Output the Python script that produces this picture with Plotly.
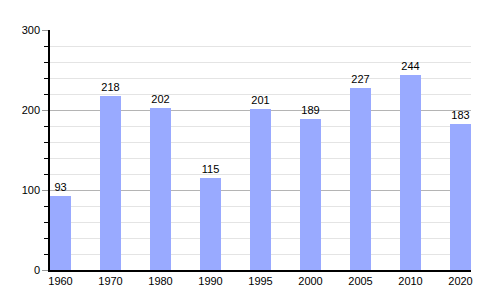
import plotly.graph_objects as go

years = ["1960", "1970", "1980", "1990", "1995", "2000", "2005", "2010", "2020"]
population = [93, 218, 202, 115, 201, 189, 227, 244, 183]

bar_w = 0.42
xpos = list(range(len(years)))

fig = go.Figure(go.Bar(
    x=xpos,
    y=population,
    width=bar_w,
    offset=0,
    marker=dict(color="#99aaff", line=dict(width=0)),
    text=[str(v) for v in population],
    textposition="outside",
    textfont=dict(family="Liberation Sans, Arial, sans-serif", size=11, color="black"),
    cliponaxis=False,
))

fig.update_layout(
    width=500, height=300,
    margin=dict(l=50, r=29, t=30, b=30),
    paper_bgcolor="white", plot_bgcolor="white",
    font=dict(family="Liberation Sans, Arial, sans-serif", size=11, color="black"),
    showlegend=False,
    bargap=0,
    xaxis=dict(
        range=[0, len(years) - 1 + bar_w],
        tickmode="array",
        tickvals=[i + bar_w / 2 for i in xpos],
        ticktext=years,
        showgrid=False, zeroline=False,
        showline=True, linecolor="black", linewidth=1.5,
        ticks="", fixedrange=True,
    ),
    yaxis=dict(
        range=[0, 300],
        tickmode="linear", tick0=0, dtick=100,
        showgrid=True, gridcolor="#b4b4b4", gridwidth=1,
        zeroline=False,
        showline=True, linecolor="black", linewidth=1.5,
        ticks="outside", ticklen=6, tickcolor="#999999",
        minor=dict(dtick=20, showgrid=True, gridcolor="#e4e4e4",
                   ticks="outside", ticklen=4, tickcolor="black"),
    ),
)

fig.write_html("out.html")
